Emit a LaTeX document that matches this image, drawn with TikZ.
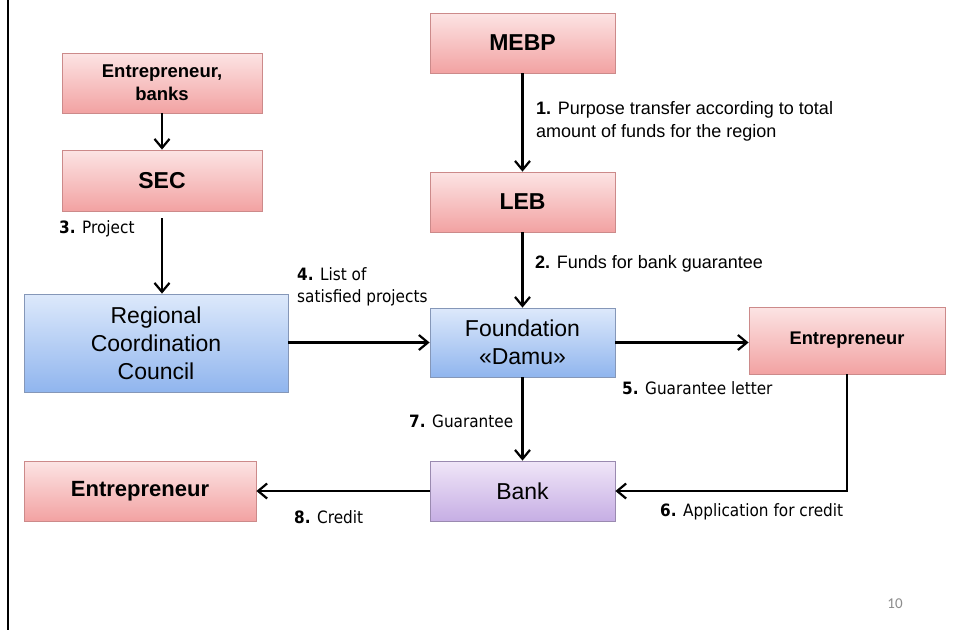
\documentclass[tikz,border=0pt]{standalone}
\usepackage{fontspec}
\setmainfont{Liberation Sans}
\newfontfamily\lblfont[FakeStretch=0.9]{DejaVu Sans}
\newfontfamily\pgnfont{Carlito}
\usetikzlibrary{arrows.meta}
\definecolor{redtop}{HTML}{FCE4E4}
\definecolor{redbot}{HTML}{F2A2A2}
\definecolor{redline}{HTML}{CC8A8A}
\definecolor{bluetop}{HTML}{DDE9FB}
\definecolor{bluebot}{HTML}{90B5EE}
\definecolor{blueline}{HTML}{8597B8}
\definecolor{purtop}{HTML}{F0E6F8}
\definecolor{purbot}{HTML}{C6AEE4}
\definecolor{purline}{HTML}{9A8AB0}
\definecolor{pagenum}{HTML}{8C8C8C}
\begin{document}
\begin{tikzpicture}[x=1pt,y=-1pt,
  box/.style={rectangle, inner sep=0pt, align=center, line width=0.8pt},
  redbox/.style={box, draw=redline, top color=redtop, bottom color=redbot},
  bluebox/.style={box, draw=blueline, top color=bluetop, bottom color=bluebot},
  purbox/.style={box, draw=purline, top color=purtop, bottom color=purbot},
  bigbold/.style={font=\bfseries\fontsize{23}{28}\selectfont},
  bigreg/.style={font=\fontsize{23}{28}\selectfont},
  arr/.style={line width=2.2pt, -{Straight Barb[length=9pt,width=15pt,line width=2.2pt]}},
  lbl/.style={font=\lblfont\fontsize{17}{22}\selectfont, anchor=west, inner sep=0pt, align=left},
  albl/.style={font=\fontsize{18}{23}\selectfont, anchor=west, inner sep=0pt, align=left}
]
\fill[white] (0,0) rectangle (954,630);
\path[use as bounding box] (0,0) rectangle (954,630);
\draw[line width=2pt] (8,0) -- (8,630);

% boxes
\node[redbox, minimum width=200pt, minimum height=60pt, font=\bfseries\fontsize{18.5}{23}\selectfont] (eb) at (162,83) {Entrepreneur,\\banks};
\node[redbox, bigbold, minimum width=200pt, minimum height=61pt] (sec) at (162,180.5) {SEC};
\node[redbox, bigbold, minimum width=185pt, minimum height=60pt] (mebp) at (522.5,43) {MEBP};
\node[redbox, bigbold, minimum width=185pt, minimum height=60pt] (leb) at (522.5,202) {LEB};
\node[bluebox, bigreg, minimum width=264pt, minimum height=98pt] (rcc) at (156,343) {Regional\\Coordination\\Council};
\node[bluebox, bigreg, minimum width=185pt, minimum height=69pt] (damu) at (522.5,342.5) {Foundation\\«Damu»};
\node[redbox, minimum width=196pt, minimum height=67pt, font=\bfseries\fontsize{18.3}{22}\selectfont] (entR) at (847,340.5) {Entrepreneur};
\node[purbox, bigreg, minimum width=185pt, minimum height=60pt] (bank) at (522.5,491) {Bank};
\node[redbox, minimum width=232pt, minimum height=60pt, font=\bfseries\fontsize{22}{26}\selectfont] (entL) at (140,491) {Entrepreneur};

% connectors
\draw[arr] (eb.south) -- (eb.south |- sec.north);
\draw[arr, shorten <=7pt] (sec.south) -- (sec.south |- rcc.north);
\draw[arr] (mebp) -- (leb);
\draw[arr] (leb) -- (damu);
\draw[arr] (rcc.east |- damu.west) -- (damu.west);
\draw[arr] (damu.east) -- (damu.east -| entR.west);
\draw[arr] (damu) -- (bank);
\draw[arr] (entR.south) |- (bank.east);
\draw[arr] (bank.west) -- (bank.west -| entL.east);

% labels
\node[albl] (l1) at (536,121.5) {\textbf{1.} Purpose transfer according to total\\amount of funds for the region};
\node[albl] (l2) at (535,264) {\textbf{2.} Funds for bank guarantee};
\node[lbl] (l3) at (59,229) {\textbf{3.} Project};
\node[lbl] (l4) at (297,287) {\textbf{4.} List of\\satisfied projects};
\node[lbl] (l5) at (622,388) {\textbf{5.} Guarantee letter};
\node[lbl] (l7) at (409,421) {\textbf{7.} Guarantee};
\node[lbl] (l6) at (660,512) {\textbf{6.} Application for credit};
\node[lbl] (l8) at (294,517) {\textbf{8.} Credit};
\node[font=\pgnfont\fontsize{15}{18}\selectfont, text=pagenum, inner sep=0pt] (pg) at (895,604) {10};
\end{tikzpicture}
\end{document}
